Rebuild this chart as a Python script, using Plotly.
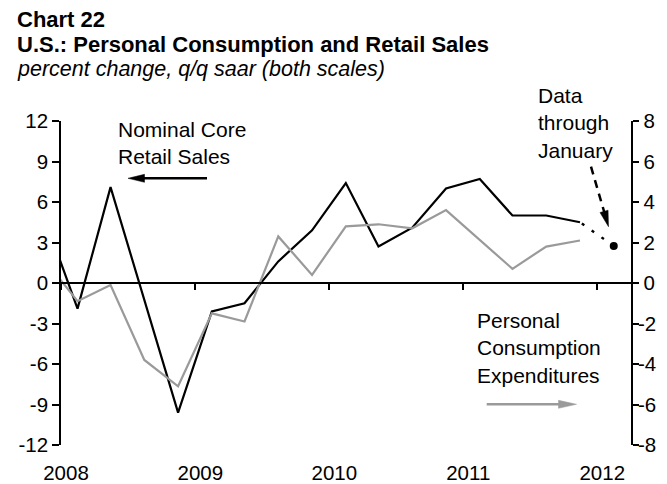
import math
import plotly.graph_objects as go

# ---- data (quarterly, plotted mid-quarter) ----
dates = ["2007-11-15", "2008-02-15", "2008-05-15", "2008-08-15", "2008-11-15",
         "2009-02-15", "2009-05-15", "2009-08-15", "2009-11-15",
         "2010-02-15", "2010-05-15", "2010-08-15", "2010-11-15",
         "2011-02-15", "2011-05-15", "2011-08-15", "2011-11-15"]
retail_sales = [5.0, -1.9, 7.1, -1.2, -9.6, -2.1, -1.5, 1.6, 3.9,
                7.4, 2.7, 4.1, 7.0, 7.7, 5.0, 5.0, 4.5]          # left scale
pce = [1.2, -0.9, -0.1, -3.8, -5.1, -1.5, -1.9, 2.3, 0.4,
       2.8, 2.9, 2.7, 3.6, 2.15, 0.7, 1.8, 2.1]                 # right scale
jan_date = ["2012-02-15"]
jan_retail = [2.74]

left_ticks = [-12, -9, -6, -3, 0, 3, 6, 9, 12]
left_labels = ["-12", "-9", "-6", "-3", "0", "3", "6", "9", "12"]
right_ticks = [-8, -6, -4, -2, 0, 2, 4, 6, 8]
right_labels = ["-8", "-6", "-4", "-2", "0", "2", "4", "6", "8"]
year_ticks = ["2008-01-01", "2009-01-01", "2010-01-01", "2011-01-01", "2012-01-01"]
year_labels = ["2008", "2009", "2010", "2011", "2012"]

FONT = "Liberation Sans, Arial, Helvetica, sans-serif"
OFF = 8                      # page body margin offset
W, H = 667 - OFF, 484 - OFF
L, T = 61 - OFF, 121 - OFF
R, B = W - (631 - OFF), H - (445 - OFF)
PW, PH = W - L - R, H - T - B
GRAY = "#9a9a9a"


def px(x):
    return (x - OFF - L) / PW


def py(y):
    return (H - B - (y - OFF)) / PH


# right-axis labels right-aligned: pad non-negative labels with a no-break space
right_text = [("\u00a0" + s) if not s.startswith("-") else s for s in right_labels]

fig = go.Figure()

fig.add_trace(go.Scatter(x=dates, y=pce, mode="lines", yaxis="y2",
                         line=dict(color=GRAY, width=2.2), showlegend=False))
fig.add_trace(go.Scatter(x=dates, y=retail_sales, mode="lines",
                         line=dict(color="#000000", width=2.2), showlegend=False))
fig.add_trace(go.Scatter(x=[jan_date[0], dates[-1]], y=[jan_retail[0], retail_sales[-1]],
                         mode="lines", line=dict(color="#000000", width=2.4, dash="3px,9px"),
                         showlegend=False))
fig.add_trace(go.Scatter(x=jan_date, y=jan_retail, mode="markers",
                         marker=dict(color="#000000", size=8), showlegend=False))
# invisible trace for the zero-line axis
fig.add_trace(go.Scatter(x=[year_ticks[0]], y=[0], xaxis="x2", mode="markers",
                         marker=dict(opacity=0), showlegend=False, hoverinfo="skip"))

xrange = ["2008-01-01", "2012-04-02"]
TF = 20.5

fig.update_layout(
    width=W, height=H,
    margin=dict(l=L, r=R, t=T, b=B, autoexpand=False),
    paper_bgcolor="white", plot_bgcolor="white",
    font=dict(family=FONT, size=TF, color="#000"),
    xaxis=dict(type="date", range=xrange, tickvals=year_ticks, ticktext=year_labels,
               showline=False, ticks="", showgrid=False, zeroline=False,
               ticklabelshift=5, ticklabelstandoff=13, automargin=False,
               tickfont=dict(size=TF)),
    xaxis2=dict(type="date", range=xrange, overlaying="x", anchor="free", position=0.5,
                side="bottom", tickvals=year_ticks, showticklabels=False,
                ticks="outside", ticklen=6, tickwidth=1.6, tickcolor="#000",
                showline=True, linecolor="#000", linewidth=1.6, showgrid=False,
                zeroline=False, automargin=False),
    yaxis=dict(range=[-12, 12], tickvals=left_ticks, ticktext=left_labels,
               ticks="outside", ticklen=7, automargin=False,
               tickwidth=1.6, tickcolor="#000", showline=True, linecolor="#000",
               linewidth=1.6, showgrid=False, zeroline=False,
               ticklabelstandoff=0, tickfont=dict(size=TF)),
    yaxis2=dict(range=[-8, 8], tickvals=right_ticks, ticktext=right_text,
                overlaying="y", side="right", automargin=False,
                ticks="outside", ticklen=6, tickwidth=1.6, tickcolor="#000",
                showline=True, linecolor="#000", linewidth=1.6, showgrid=False,
                zeroline=False, ticklabelstandoff=-5, tickfont=dict(size=TF)),
)

ann = []


def text(t, x, y, size, xanchor="left"):
    ann.append(dict(text=t, x=px(x), y=py(y), xref="paper", yref="paper",
                    xanchor=xanchor, yanchor="middle", align="left",
                    showarrow=False, font=dict(size=size, family=FONT, color="#000")))


# titles (y = visual middle of line)
text("<b>Chart 22</b>", 14.5, 20, 22)
text("<b>U.S.: Personal Consumption and Retail Sales</b>", 14.5, 44.5, 22)
text("<i>percent change, q/q saar (both scales)</i>", 14.5, 69, 21.5)
# series labels
text("Nominal Core<br>Retail Sales", 115.5, 143, 21)
text("Data<br>through<br>January", 536, 122.5, 21)
text("Personal<br>Consumption<br>Expenditures", 475, 347.5, 21)
fig.update_layout(annotations=ann)


def arrow(tail, head, color, width, hl, hw, dash=None):
    dx, dy = head[0] - tail[0], head[1] - tail[1]
    n = math.hypot(dx, dy)
    ux, uy = dx / n, dy / n
    bx, by = head[0] - ux * hl, head[1] - uy * hl
    fig.add_shape(type="line", xref="paper", yref="paper",
                  x0=px(tail[0]), y0=py(tail[1]), x1=px(bx + ux * 2), y1=py(by + uy * 2),
                  line=dict(color=color, width=width, dash=dash or "solid"))
    p1 = (bx - uy * hw, by + ux * hw)
    p2 = (bx + uy * hw, by - ux * hw)
    path = "M{},{} L{},{} L{},{} Z".format(px(head[0]), py(head[1]), px(p1[0]), py(p1[1]),
                                           px(p2[0]), py(p2[1]))
    fig.add_shape(type="path", xref="paper", yref="paper", path=path,
                  fillcolor=color, line=dict(color=color, width=0.5))


arrow((207, 178.3), (128, 178.3), "#000", 2.5, 16.5, 4.0)
arrow((486.7, 404.3), (576.5, 404.3), GRAY, 2.5, 18, 4.0)
arrow((591, 166.7), (608.5, 226.7), "#000", 2.5, 16, 4.2, dash="8px,6px")

fig.write_html("out.html")
